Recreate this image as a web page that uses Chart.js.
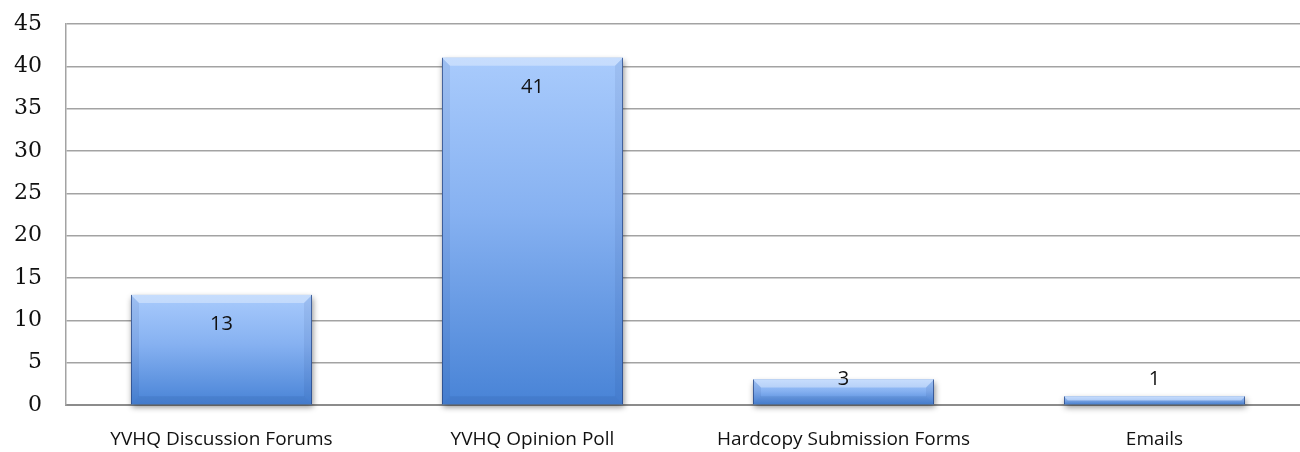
<!DOCTYPE html>
<html>
<head>
<meta charset="utf-8">
<script src="https://cdn.jsdelivr.net/npm/chart.js@4/dist/chart.umd.min.js"></script>
<style>
  html, body { margin: 0; padding: 0; background: #fff; overflow: hidden; }
  #wrap { width: 1320px; height: 452px; position: relative; }
</style>
</head>
<body>
<div id="wrap"><canvas id="grafico"></canvas></div>
<script>
// categorias e valores
const categorias = ["YVHQ Discussion Forums", "YVHQ Opinion Poll", "Hardcopy Submission Forms", "Emails"];
const valores = [13, 41, 3, 1];
const eixoY = [0, 5, 10, 15, 20, 25, 30, 35, 40, 45];

const ctx = document.getElementById('grafico').getContext('2d');

// gradiente vertical de cada barra (claro em cima, escuro embaixo)
function corBarra(context) {
    const chart = context.chart;
    const y = chart.scales.y;
    if (!chart.chartArea || !y) return '#6fa0e8';
    const v = context.raw;
    const topo = y.getPixelForValue(v);
    const base = y.getPixelForValue(0);
    if (!isFinite(topo) || topo === base) return '#6fa0e8';
    const g = chart.ctx.createLinearGradient(0, topo, 0, base);
    g.addColorStop(0, '#a9cbfc');
    g.addColorStop(0.45, '#86b1f1');
    g.addColorStop(1, '#4883d6');
    return g;
}

// sombra por trás das barras
const sombra = {
    id: 'sombra',
    beforeDatasetsDraw(chart) {
        const c = chart.ctx;
        const meta = chart.getDatasetMeta(0);
        c.save();
        c.shadowColor = 'rgba(0,0,0,0.45)';
        c.shadowBlur = 6;
        c.shadowOffsetX = 1;
        c.shadowOffsetY = 3;
        c.fillStyle = '#5d8fd8';
        meta.data.forEach(b => {
            const p = b.getProps(['x', 'y', 'base', 'width'], true);
            c.fillRect(p.x - p.width / 2, p.y, p.width, p.base - p.y);
        });
        c.restore();
    }
};

// chanfro nas bordas + rótulo de valor
const chanfro = {
    id: 'chanfro',
    afterDatasetsDraw(chart) {
        const c = chart.ctx;
        const meta = chart.getDatasetMeta(0);
        c.save();
        meta.data.forEach((b, i) => {
            const p = b.getProps(['x', 'y', 'base', 'width'], true);
            const L = p.x - p.width / 2, R = p.x + p.width / 2;
            const T = p.y, B = p.base;
            const e = Math.min(8, (B - T) / 2);

            // topo mais claro
            c.fillStyle = 'rgba(255,255,255,0.35)';
            c.beginPath();
            c.moveTo(L, T); c.lineTo(R, T); c.lineTo(R - e, T + e); c.lineTo(L + e, T + e);
            c.closePath(); c.fill();

            // laterais levemente escuras
            c.fillStyle = 'rgba(20,50,110,0.08)';
            c.beginPath();
            c.moveTo(L, T); c.lineTo(L + e, T + e); c.lineTo(L + e, B - e); c.lineTo(L, B);
            c.closePath(); c.fill();
            c.beginPath();
            c.moveTo(R, T); c.lineTo(R - e, T + e); c.lineTo(R - e, B - e); c.lineTo(R, B);
            c.closePath(); c.fill();

            // base mais escura
            c.fillStyle = 'rgba(20,50,110,0.10)';
            c.beginPath();
            c.moveTo(L, B); c.lineTo(R, B); c.lineTo(R - e, B - e); c.lineTo(L + e, B - e);
            c.closePath(); c.fill();

            // contorno fino das laterais
            c.strokeStyle = 'rgba(40,70,130,0.75)';
            c.lineWidth = 1;
            c.beginPath();
            c.moveTo(L + 0.5, T); c.lineTo(L + 0.5, B);
            c.moveTo(R - 0.5, T); c.lineTo(R - 0.5, B);
            c.stroke();

            // valor dentro da barra (ou logo acima quando a barra é baixa)
            c.fillStyle = '#111';
            c.font = '20px "Open Sans"';
            c.textAlign = 'center';
            c.textBaseline = 'middle';
            const ty = Math.min(T + 29, B - 25);
            c.fillText(String(valores[i]), p.x, ty);
        });
        c.restore();
    }
};

let grafico = new Chart(ctx, {
    type: 'bar',
    data: {
        labels: categorias,
        datasets: [{
            data: valores,
            backgroundColor: corBarra,
            borderWidth: 0,
            barPercentage: 0.582,
            categoryPercentage: 1
        }]
    },
    options: {
        responsive: true,
        maintainAspectRatio: false,
        animation: false,
        layout: { padding: { top: 24, right: 10, left: 0, bottom: 0 } },
        plugins: {
            legend: { display: false },
            tooltip: { enabled: false }
        },
        scales: {
            x: {
                grid: { display: false, drawTicks: false },
                border: { display: true, color: '#8c8c8c', width: 2 },
                ticks: {
                    color: '#111',
                    padding: 23,
                    maxRotation: 0,
                    font: { family: '"Open Sans"', size: 19 }
                },
                afterFit(scale) { scale.height = 47; }
            },
            y: {
                min: 0,
                max: 45,
                afterBuildTicks(scale) { scale.ticks = eixoY.map(v => ({ value: v })); },
                // marcas invisíveis só para afastar os números do eixo
                grid: { color: '#a3a3a3', lineWidth: 1.5, drawTicks: true, tickLength: 24, tickColor: 'rgba(0,0,0,0)' },
                border: { display: true, color: '#a3a3a3', width: 1.5 },
                ticks: {
                    color: '#111',
                    padding: 0,
                    font: { family: '"DejaVu Serif"', size: 22 }
                },
                afterFit(scale) { scale.width = 66; }
            }
        }
    },
    plugins: [sombra, chanfro]
});
</script>
</body>
</html>
